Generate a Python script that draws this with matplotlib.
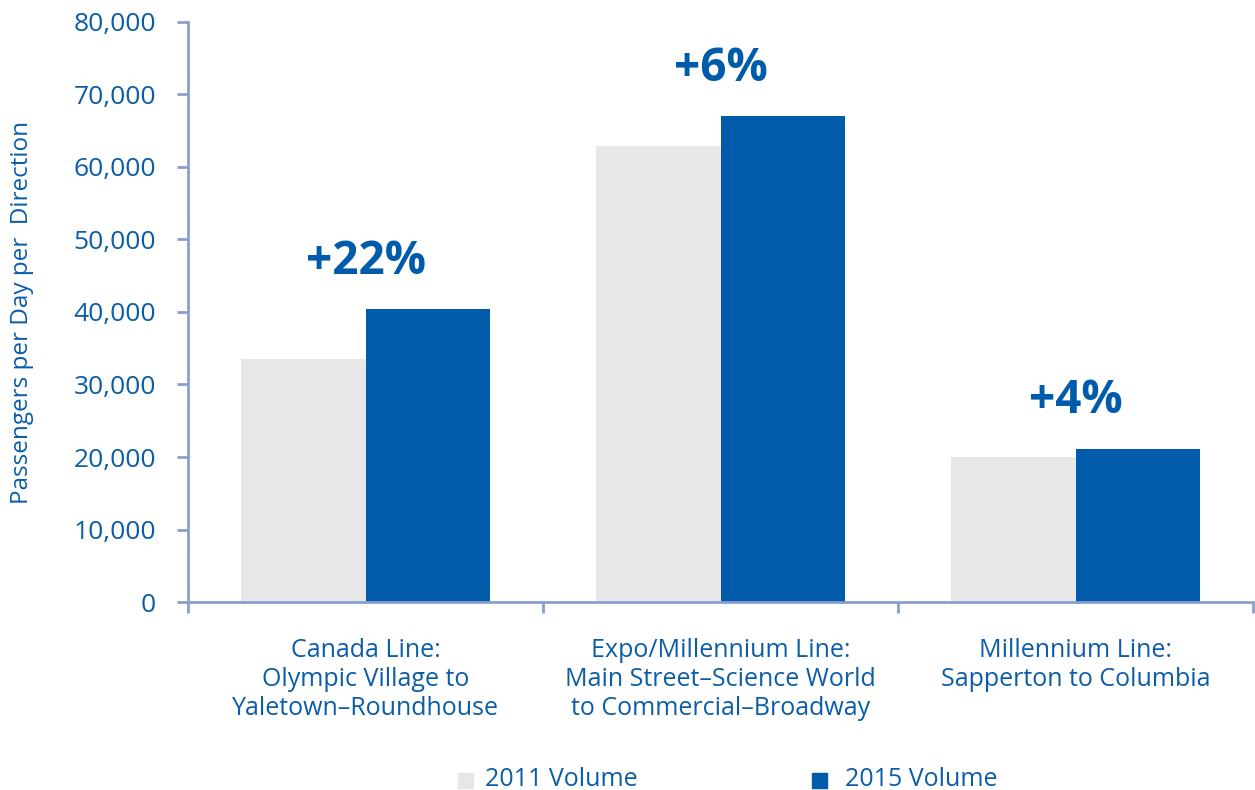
import matplotlib
matplotlib.use("Agg")
import matplotlib.pyplot as plt
import numpy as np
from matplotlib.patches import Rectangle
from matplotlib.ticker import FuncFormatter

categories = ["Canada Line:\nOlympic Village to\nYaletown\u2013Roundhouse",
              "Expo/Millennium Line:\nMain Street\u2013Science World\nto Commercial\u2013Broadway",
              "Millennium Line:\nSapperton to Columbia"]
vol_2011 = [33500, 62900, 20000]
vol_2015 = [40400, 67000, 21100]
growth = ["+22%", "+6%", "+4%"]
series_names = ["2011 Volume", "2015 Volume"]

TEXT = "#0B5DA8"
AXIS = "#8A9FD0"
GRAY = "#E6E7E8"
BLUE = "#005BAA"

plt.rcParams['font.family'] = ['Open Sans', 'DejaVu Sans']

fig = plt.figure(figsize=(12.55, 7.9), dpi=100)
ax = fig.add_axes([188/1255, (790-602)/790, (1253-188)/1255, (602-22)/790])

x = np.arange(len(categories))
w = 0.35
ax.bar(x - w/2, vol_2011, width=w, color=GRAY, align='center')
ax.bar(x + w/2, vol_2015, width=w, color=BLUE, align='center')

for xi, v, g in zip(x, vol_2015, growth):
    ax.text(xi, v + 4900, g, ha='center', va='baseline', color=BLUE,
            fontsize=33, fontweight='bold')

ax.set_xlim(-0.5, len(categories) - 0.5)
ax.set_ylim(0, 80000)
ax.set_yticks(np.arange(0, 80001, 10000))
ax.yaxis.set_major_formatter(FuncFormatter(lambda v, p: f"{int(v):,}"))
ax.set_xticks(np.arange(-0.5, len(categories), 1.0))
ax.set_xticklabels([])
ax.set_xticks(x, minor=True)
ax.set_xticklabels(categories, minor=True, fontsize=18, color=TEXT, linespacing=1.2)
ax.tick_params(axis='x', which='minor', length=0, pad=26)
ax.tick_params(axis='x', which='major', length=8, width=2, color=AXIS, direction='out')
ax.tick_params(axis='y', length=8, width=2, color=AXIS, direction='out',
               labelsize=19, labelcolor=TEXT, pad=15)

for s in ['top', 'right']:
    ax.spines[s].set_visible(False)
for s in ['left', 'bottom']:
    ax.spines[s].set_color(AXIS)
    ax.spines[s].set_linewidth(2)

fig.text(22/1255, 1 - 312/790, "Passengers per Day per  Direction", rotation=90,
         ha='center', va='center', color=TEXT, fontsize=17.5)

# legend (manual layout)
legend_items = [(458, GRAY, 485), (812, BLUE, 845)]
for (sx, col, tx), name in zip(legend_items, series_names):
    fig.patches.append(Rectangle((sx/1255, 1 - 788/790), 15/1255, 15/790,
                                 transform=fig.transFigure, color=col, figure=fig))
    fig.text(tx/1255, 1 - 780/790, name, ha='left', va='center', color=TEXT, fontsize=18)

fig.savefig("out.png", dpi=100)
